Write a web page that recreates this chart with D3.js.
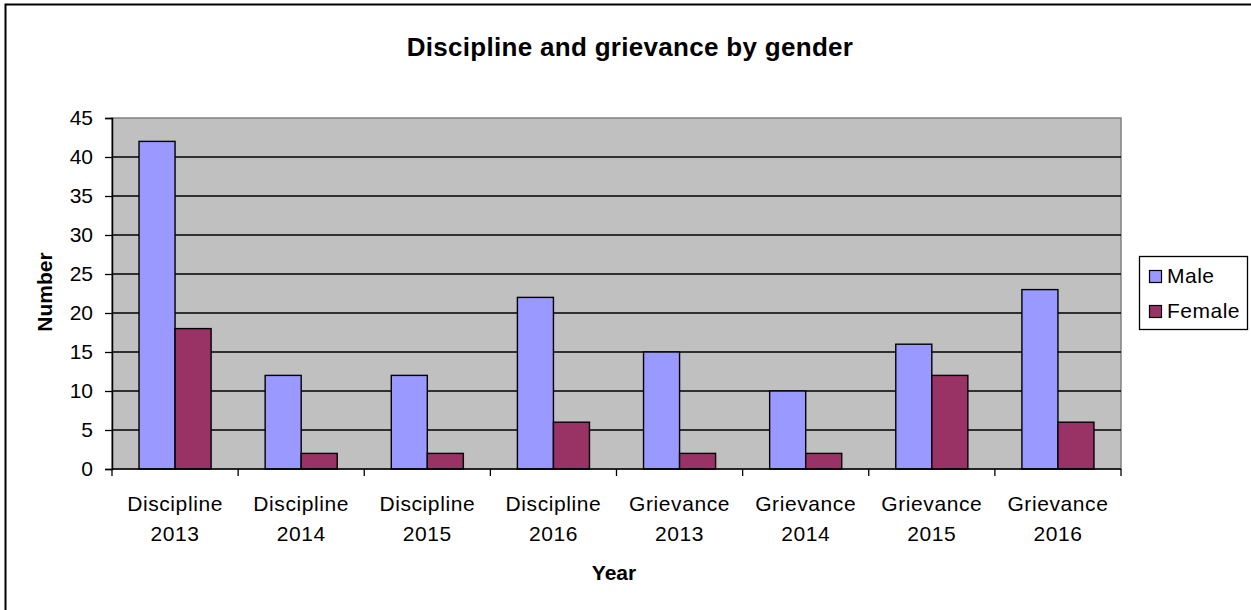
<!DOCTYPE html>
<html>
<head>
<meta charset="utf-8">
<script src="https://cdn.jsdelivr.net/npm/d3@7"></script>
<style>
  html, body { margin: 0; padding: 0; background: #fff; }
  svg { display: block; font-family: "Liberation Sans", Arial, sans-serif; }
</style>
</head>
<body>
<svg id="chart" width="1251" height="610"></svg>
<script>
// Case counts per category, split by gender
const categories = [
  ["Discipline", "2013"], ["Discipline", "2014"], ["Discipline", "2015"], ["Discipline", "2016"],
  ["Grievance", "2013"], ["Grievance", "2014"], ["Grievance", "2015"], ["Grievance", "2016"]
];
const maleValues   = [42, 12, 12, 22, 15, 10, 16, 23];
const femaleValues = [18, 2, 2, 6, 2, 2, 12, 6];
const seriesNames  = ["Male", "Female"];
const seriesColors = ["#9999FF", "#993366"];
const yTicks = [0, 5, 10, 15, 20, 25, 30, 35, 40, 45];

const FONT = 21;
const svg = d3.select("#chart");

// Outer chart frame
svg.append("rect")
  .attr("x", 5.5).attr("y", 4.5)
  .attr("width", 1260).attr("height", 620)
  .attr("fill", "#fff").attr("stroke", "#000").attr("stroke-width", 2);

const plot = { left: 112, right: 1121, top: 118, bottom: 469 };

const x = d3.scaleBand()
  .domain(d3.range(categories.length))
  .range([plot.left, plot.right]);

const y = d3.scaleLinear().domain([0, 45]).range([plot.bottom, plot.top]);

// Plot background
svg.append("rect")
  .attr("x", plot.left).attr("y", plot.top)
  .attr("width", plot.right - plot.left).attr("height", plot.bottom - plot.top)
  .attr("fill", "#C0C0C0").attr("stroke", "#808080").attr("stroke-width", 1.5);

// Horizontal gridlines
svg.append("g")
  .selectAll("line")
  .data(yTicks.filter(t => t > 0 && t < 45))
  .join("line")
  .attr("x1", plot.left).attr("x2", plot.right)
  .attr("y1", d => y(d)).attr("y2", d => y(d))
  .attr("stroke", "#000").attr("stroke-width", 1.4);

// Bars: each series takes 2/7 of a category slot
const inner = d3.scaleBand()
  .domain(seriesNames)
  .range([0, x.bandwidth()])
  .paddingInner(0)
  .paddingOuter(0.75);

const series = [maleValues, femaleValues];
const barsG = svg.append("g");
categories.forEach((c, i) => {
  series.forEach((vals, s) => {
    barsG.append("rect")
      .attr("x", x(i) + inner(seriesNames[s]))
      .attr("y", y(vals[i]))
      .attr("width", inner.bandwidth())
      .attr("height", y(0) - y(vals[i]))
      .attr("fill", seriesColors[s])
      .attr("stroke", "#000").attr("stroke-width", 1.4);
  });
});

// Y axis
const yAxis = d3.axisLeft(y).tickValues(yTicks).tickSize(7).tickPadding(12);
const yg = svg.append("g")
  .attr("transform", `translate(${plot.left},0)`)
  .call(yAxis);
yg.select(".domain").attr("stroke", "#000").attr("stroke-width", 1.5);
yg.selectAll(".tick line").attr("stroke", "#000").attr("stroke-width", 1.3);
yg.selectAll(".tick text")
  .attr("font-size", FONT).attr("fill", "#000")
  .attr("font-family", "Liberation Sans, Arial, sans-serif");

// X axis line with ticks at category boundaries
const xg = svg.append("g");
xg.append("line")
  .attr("x1", plot.left).attr("x2", plot.right)
  .attr("y1", plot.bottom).attr("y2", plot.bottom)
  .attr("stroke", "#000").attr("stroke-width", 1.5);
xg.selectAll(".xt")
  .data(d3.range(categories.length + 1))
  .join("line")
  .attr("class", "xt")
  .attr("x1", d => plot.left + d * x.step())
  .attr("x2", d => plot.left + d * x.step())
  .attr("y1", plot.bottom).attr("y2", plot.bottom + 7)
  .attr("stroke", "#000").attr("stroke-width", 1.3);

// Category labels (two lines)
const lbl = svg.append("g")
  .attr("font-size", FONT).attr("fill", "#000")
  .attr("text-anchor", "middle").attr("letter-spacing", 0.6);
categories.forEach((c, i) => {
  const cx = x(i) + x.bandwidth() / 2;
  lbl.append("text").attr("x", cx).attr("y", 511).text(c[0]);
  lbl.append("text").attr("x", cx).attr("y", 541).text(c[1]);
});

// Titles
svg.append("text")
  .attr("x", 630).attr("y", 56)
  .attr("text-anchor", "middle")
  .attr("font-size", 26).attr("font-weight", "bold")
  .attr("letter-spacing", 0.3)
  .text("Discipline and grievance by gender");

svg.append("text")
  .attr("x", 614).attr("y", 580)
  .attr("text-anchor", "middle")
  .attr("font-size", FONT).attr("font-weight", "bold")
  .text("Year");

svg.append("text")
  .attr("transform", "translate(52,292) rotate(-90)")
  .attr("text-anchor", "middle")
  .attr("font-size", FONT).attr("font-weight", "bold")
  .text("Number");

// Legend
const legend = svg.append("g");
legend.append("rect")
  .attr("x", 1139.5).attr("y", 256.5)
  .attr("width", 108).attr("height", 73)
  .attr("fill", "#fff").attr("stroke", "#000").attr("stroke-width", 1.3);
seriesNames.forEach((name, s) => {
  const base = 283 + s * 35;
  legend.append("rect")
    .attr("x", 1149.5).attr("y", base - 12.5)
    .attr("width", 12).attr("height", 12)
    .attr("fill", seriesColors[s]).attr("stroke", "#000").attr("stroke-width", 1.2);
  legend.append("text")
    .attr("x", 1167).attr("y", base)
    .attr("font-size", FONT).attr("letter-spacing", 0.5)
    .text(name);
});
</script>
</body>
</html>
